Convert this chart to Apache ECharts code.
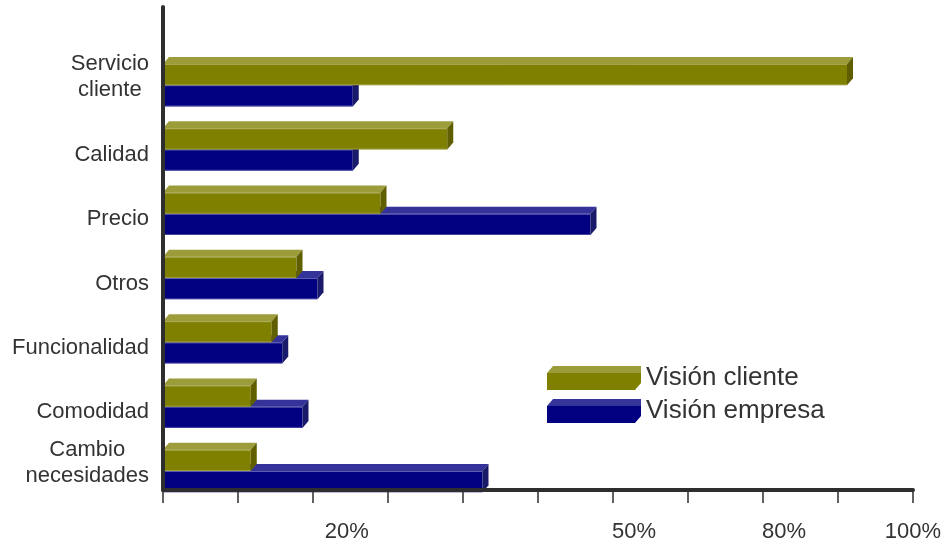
<!DOCTYPE html>
<html>
<head>
<meta charset="utf-8">
<script src="https://cdn.jsdelivr.net/npm/echarts@6/dist/echarts.min.js"></script>
<style>
  html, body { margin: 0; padding: 0; background: #ffffff; }
  #chart { width: 947px; height: 547px; }
</style>
</head>
<body>
<div id="chart"></div>
<script>
// Factores de compra: visión del cliente frente a visión de la empresa (%)
const categories = ['Servicio\ncliente', 'Calidad', 'Precio', 'Otros', 'Funcionalidad', 'Comodidad', 'Cambio\nnecesidades'];
const visionCliente = [91.2, 37.9, 29.0, 17.8, 14.5, 11.7, 11.7];
const visionEmpresa = [25.3, 25.3, 57.0, 20.6, 15.9, 18.6, 42.6];
const tickLabels = ['20%', '50%', '80%', '100%'];
const tickLabelValues = [24.5, 62.8, 82.8, 100];

const FONT = '"Liberation Sans", Arial, sans-serif';
const TEXT = '#333333';

const palette = {
  cliente: { front: '#808000', top: '#9c9c3a', side: '#5f5f00', edge: '#b9b978' },
  empresa: { front: '#000080', top: '#333399', side: '#1a1a6a', edge: '#8a8ac8' }
};

// Draws one bar as a box: front face, top face and right side face.
function boxRenderer(colors, slot) {
  return function (params, api) {
    const idx = api.value(1);
    const end = api.coord([api.value(0), idx]);
    const start = api.coord([0, idx]);
    const band = Math.abs(api.size([0, 1])[1]);
    const h = band * 0.33;
    const yt = slot === 0 ? end[1] - h : end[1];
    const yb = yt + h;
    const x0 = start[0];
    const x1 = end[0];
    const dx = 6, dy = 7;
    return {
      type: 'group',
      children: [
        {
          type: 'polygon',
          shape: { points: [[x0, yt], [x0 + dx, yt - dy], [x1 + dx, yt - dy], [x1, yt]] },
          style: { fill: colors.top }
        },
        {
          type: 'rect',
          shape: { x: x0, y: yt, width: x1 - x0, height: h },
          style: { fill: colors.front }
        },
        {
          type: 'line',
          shape: { x1: x0, y1: yt + 0.5, x2: x1, y2: yt + 0.5 },
          style: { stroke: colors.edge, lineWidth: 1, opacity: 0.7 }
        },
        {
          type: 'line',
          shape: { x1: x0, y1: yb - 0.5, x2: x1, y2: yb - 0.5 },
          style: { stroke: colors.edge, lineWidth: 1, opacity: 0.5 }
        },
        {
          type: 'polygon',
          shape: { points: [[x1, yt], [x1 + dx, yt - dy], [x1 + dx, yb - dy], [x1, yb]] },
          style: { fill: colors.side }
        }
      ]
    };
  };
}

function legendFill(colors) {
  return new echarts.graphic.LinearGradient(0, 0, 0, 1, [
    { offset: 0, color: colors.top },
    { offset: 0.29, color: colors.top },
    { offset: 0.29, color: colors.front },
    { offset: 1, color: colors.front }
  ]);
}

// Category label: two-line names sit a little higher, single-line ones a little lower.
function categoryLabel(v) {
  const name = categories[Math.round(v)];
  const lines = name.split('\n');
  const body = lines.map(function (line) { return '{c|' + line + '}'; }).join('\n');
  return lines.length > 1 ? body + '\n{gap| }' : '{pad| }\n' + body;
}

const chart = echarts.init(document.getElementById('chart'), null, { renderer: 'canvas' });

chart.setOption({
  backgroundColor: '#ffffff',
  animation: false,
  grid: { left: 163, right: 34, top: 7, bottom: 57, containLabel: false, outerBoundsMode: 'none' },
  legend: {
    orient: 'vertical',
    left: 542,
    top: 360,
    itemWidth: 94,
    itemHeight: 24,
    itemGap: 7,
    selectedMode: false,
    icon: 'path://M0,7L6,0L94,0L94,17L88,24L0,24Z',
    textStyle: { fontFamily: FONT, fontSize: 26, color: TEXT },
    data: [
      { name: 'Visión cliente', itemStyle: { color: legendFill(palette.cliente) } },
      { name: 'Visión empresa', itemStyle: { color: legendFill(palette.empresa) } }
    ]
  },
  xAxis: {
    type: 'value',
    min: 0,
    max: 100,
    interval: 10,
    z: 10,
    axisLine: { show: true, onZero: false, lineStyle: { color: '#2e2e2e', width: 4 } },
    axisTick: { show: true, length: 13, lineStyle: { color: '#2e2e2e', width: 1.5 } },
    splitLine: { show: false },
    axisLabel: {
      customValues: tickLabelValues,
      margin: 31,
      fontFamily: FONT,
      fontSize: 22,
      color: TEXT,
      formatter: function (v) {
        const i = tickLabelValues.indexOf(v);
        return i >= 0 ? tickLabels[i] : '';
      }
    }
  },
  yAxis: {
    type: 'value',
    inverse: true,
    min: -1.216,
    max: 6.296,
    z: 10,
    axisLine: { show: true, lineStyle: { color: '#2e2e2e', width: 4 } },
    axisTick: { show: false },
    splitLine: { show: false },
    axisLabel: {
      customValues: categories.map(function (c, i) { return i; }),
      margin: 14,
      formatter: categoryLabel,
      rich: {
        c: { align: 'center', fontFamily: FONT, fontSize: 22, color: TEXT, lineHeight: 26 },
        gap: { fontSize: 2, lineHeight: 16 },
        pad: { fontSize: 2, lineHeight: 11 }
      }
    }
  },
  series: [
    {
      name: 'Visión cliente',
      type: 'custom',
      z: 3,
      itemStyle: { color: palette.cliente.front },
      renderItem: boxRenderer(palette.cliente, 0),
      encode: { x: 0, y: 1 },
      data: visionCliente.map(function (v, i) { return [v, i]; })
    },
    {
      name: 'Visión empresa',
      type: 'custom',
      z: 2,
      itemStyle: { color: palette.empresa.front },
      renderItem: boxRenderer(palette.empresa, 1),
      encode: { x: 0, y: 1 },
      data: visionEmpresa.map(function (v, i) { return [v, i]; })
    }
  ]
});
</script>
</body>
</html>
